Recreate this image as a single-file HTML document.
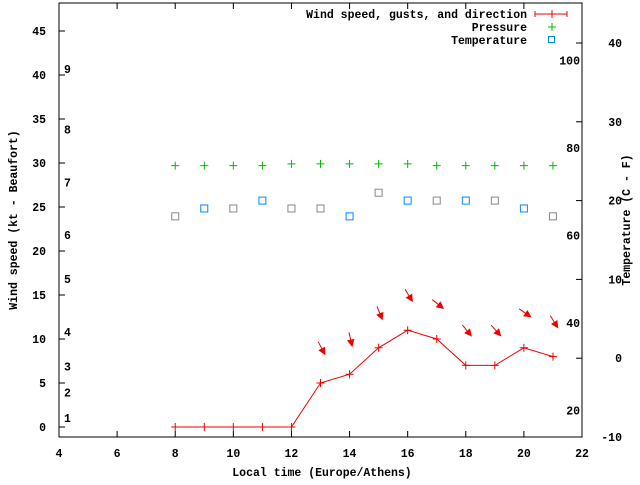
<!DOCTYPE html>
<html><head><meta charset="utf-8"><style>
body{margin:0;background:#fff}
svg text{font-family:"Liberation Mono",monospace;font-size:11.5px;font-weight:bold;fill:#000}
</style></head><body>
<svg id="chart" width="640" height="480" xmlns="http://www.w3.org/2000/svg">
<g id="axes"></g>
<g id="marks"></g>
<g id="legend">
<text x="527" y="18" text-anchor="end">Wind speed, gusts, and direction</text>
<path d="M535 14H567M535 11V17M567 11V17M552 10V18M548 14H556" stroke="#e00" stroke-width="1" fill="none"/>
<text x="527" y="31" text-anchor="end">Pressure</text>
<path d="M548 27H556M552 23V31" stroke="#0b0" stroke-width="1"/>
<text x="527" y="44" text-anchor="end">Temperature</text>
<rect x="548.5" y="36.5" width="6" height="6" fill="none" stroke="#08f"/>
</g>
<text transform="translate(17,220) rotate(-90)" text-anchor="middle">Wind speed (kt - Beaufort)</text>
<text transform="translate(630,220) rotate(-90)" text-anchor="middle">Temperature (C - F)</text>
<text x="322" y="476" text-anchor="middle">Local time (Europe/Athens)</text>
</svg>
<script>
const hours=[8,9,10,11,12,13,14,15,16,17,18,19,20,21];
const wind=[0,0,0,0,0,5,6,9,11,10,7,7,9,8];
const windDir=[null,null,null,null,null,28,13,22,31,52,39,42,55,32];
const pressure=[29.7,29.7,29.7,29.7,29.9,29.9,29.9,29.9,29.9,29.7,29.7,29.7,29.7,29.7];
const temperature=[18,19,19,20,19,19,18,21,20,20,20,20,19,18];
const tempColor=['#888','#08f','#888','#08f','#888','#888','#08f','#888','#08f','#888','#08f','#888','#08f','#888'];
const xTicks=[4,6,8,10,12,14,16,18,20,22];
const yTicks=[0,5,10,15,20,25,30,35,40,45];
const y2Ticks=[-10,0,10,20,30,40];
const beaufort=[[1,1.0],[2,3.9],[3,6.9],[4,10.8],[5,16.8],[6,21.8],[7,27.8],[8,33.8],[9,40.7]];
const fahr=[20,40,60,80,100];
const L=59,R=582,T=3,B=437;
const X=v=>L+(v-4)*(R-L)/18;
const Y=v=>427-v*(427-31)/45;
const Y2=v=>437-(v+10)*(437-43)/50;
const NS='http://www.w3.org/2000/svg';
const ax=document.getElementById('axes'),mk=document.getElementById('marks');
function el(t,a,p){const e=document.createElementNS(NS,t);for(const k in a)e.setAttribute(k,a[k]);p.appendChild(e);return e;}
let r=el('rect',{x:L,y:T,width:R-L,height:B-T,fill:'none',stroke:'#000'},ax);


xTicks.forEach(v=>{const x=X(v);
 let p=el('path',{d:`M${x} ${B}V${B-6}M${x} ${T}V${T+6}`,stroke:'#000'},ax);
 
 
 let t=el('text',{x:x,y:B+20,'text-anchor':'middle'},ax);t.textContent=v;
 
 });
yTicks.forEach(v=>{const y=Y(v);
 let p=el('path',{d:`M${L} ${y}H${L+6}`,stroke:'#000'},ax);
 
 
 let t=el('text',{x:L-13,y:y+4,'text-anchor':'end'},ax);t.textContent=v;
 
 });
y2Ticks.forEach(v=>{const y=Y2(v);
 let p=el('path',{d:`M${R} ${y}H${R-6}`,stroke:'#000'},ax);
 
 
 let t=el('text',{x:R+40,y:y+4,'text-anchor':'end'},ax);t.textContent=v;
 
 });
beaufort.forEach(b=>{let t=el('text',{x:L+5,y:Y(b[1])+4},ax);t.textContent=b[0];
 
 });
fahr.forEach(f=>{let t=el('text',{x:R-2,y:Y2((f-32)*5/9)+4,'text-anchor':'end'},ax);t.textContent=f;
 
 });
let pl=el('polyline',{points:hours.map((h,i)=>X(h)+','+Y(wind[i])).join(' '),fill:'none',stroke:'#e00'},mk);


hours.forEach((h,i)=>{const x=X(h),y=Y(wind[i]);
 let c=el('path',{d:`M${x-4} ${y}H${x+4}M${x} ${y-4}V${y+4}`,stroke:'#e00'},mk);
 
 
 const py=Y(pressure[i]);
 let p=el('path',{d:`M${x-4} ${py}H${x+4}M${x} ${py-4}V${py+4}`,stroke:'#0b0'},mk);
 
 
 const ty=Y2(temperature[i]);
 let s=el('rect',{x:x-3.5,y:ty-3.5,width:7,height:7,fill:'none',stroke:tempColor[i]},mk);
 
 
 if(windDir[i]!==null){const a=windDir[i]*Math.PI/180,dx=Math.sin(a),dy=Math.cos(a);
  const cx=x+1,cy=y-35,x1=cx-dx*7,y1=cy-dy*7,x2=cx+dx*7,y2=cy+dy*7;
  const px=-dy,py2=dx;
  let g=el('path',{d:`M${x1} ${y1}L${x2} ${y2}M${x2} ${y2}L${x2-dx*6+px*3} ${y2-dy*6+py2*3}L${x2-dx*6-px*3} ${y2-dy*6-py2*3}Z`,stroke:'#e00',fill:'#e00'},mk);
  
  }
});
</script>
</body></html>
